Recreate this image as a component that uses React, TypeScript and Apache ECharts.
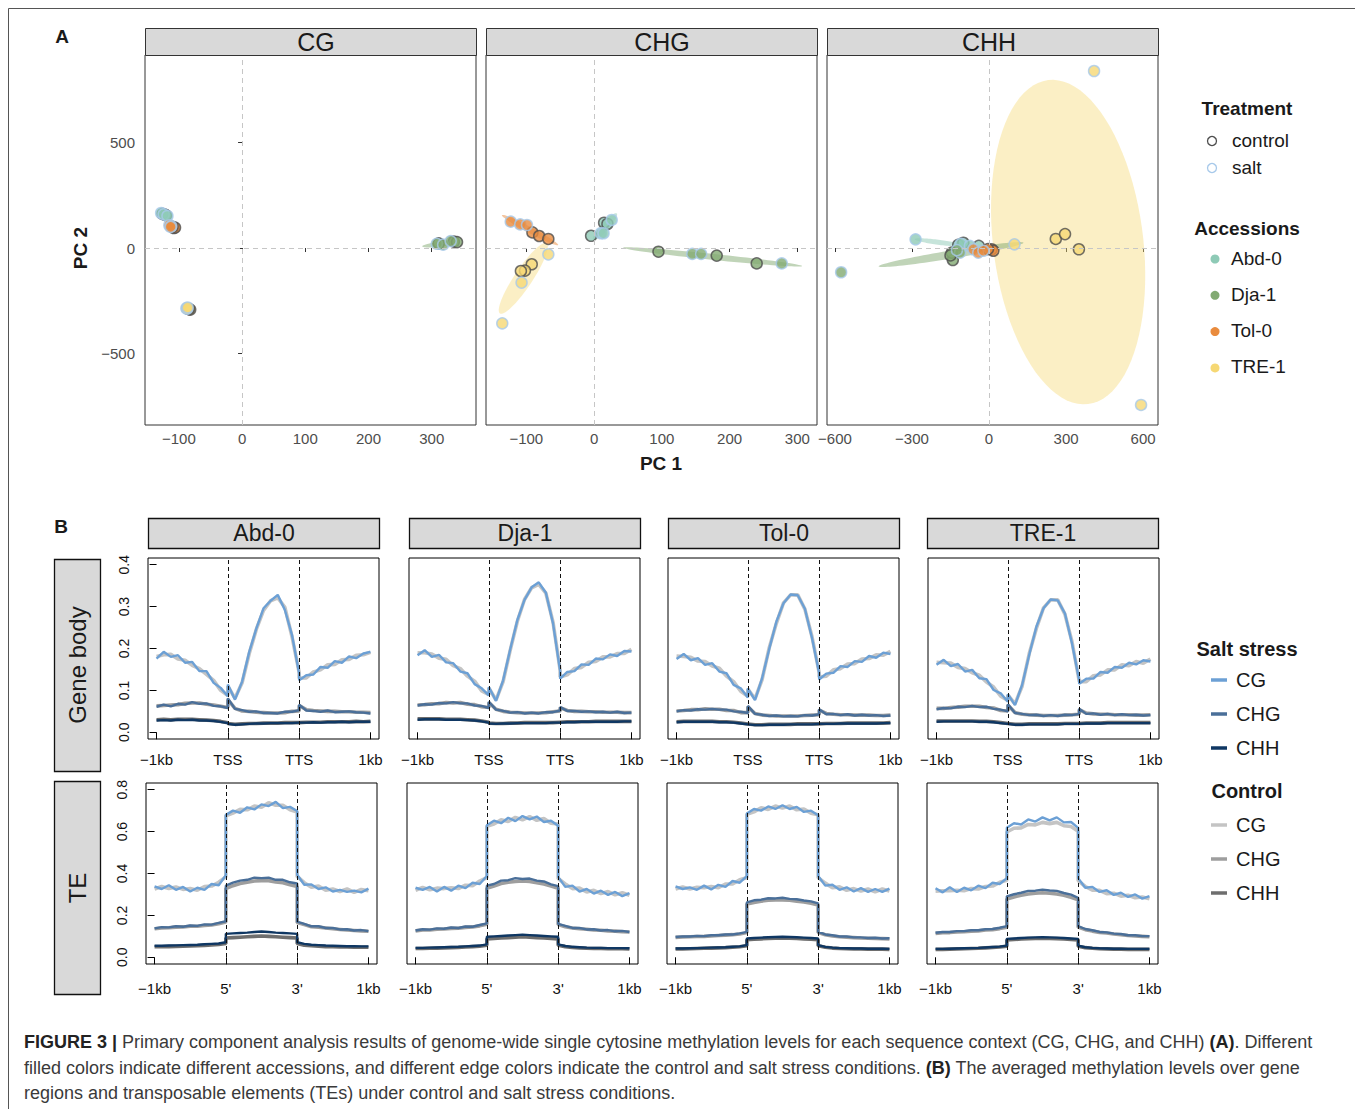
import React, { useEffect, useRef } from "react";
import * as echarts from "echarts";

const FONT = "Liberation Sans, Arial, Helvetica, sans-serif";

// ---------- Panel A: PCA ----------
const CONTEXTS = ["CG", "CHG", "CHH"];
const ACCESSIONS = ["Abd-0", "Dja-1", "Tol-0", "TRE-1"];
const ACC_COLORS = ["#8ecab6", "#82aa72", "#e98b3d", "#f6d874"];
const TREATMENTS = ["control", "salt"];
const TREAT_EDGES = ["#4d4d4d", "#a7c9ea"];

// [PC1, PC2, accession index, treatment index]
const PCA_CG = [
  [-126, 162, 0, 0], [-122, 158, 0, 0], [-120, 155, 0, 0], [-128, 166, 0, 1], [-124, 160, 0, 1], [-118, 152, 0, 1],
  [311, 22, 1, 0], [335, 30, 1, 0], [340, 28, 1, 0], [308, 20, 1, 1], [318, 16, 1, 1], [330, 33, 1, 1],
  [-108, 95, 2, 0], [-106, 97, 2, 0], [-110, 100, 2, 0], [-115, 108, 2, 1], [-112, 104, 2, 1], [-113, 100, 2, 1],
  [-82, -292, 3, 0], [-84, -290, 3, 0], [-85, -288, 3, 0], [-88, -285, 3, 1], [-87, -288, 3, 1], [-86, -282, 3, 1],
];
const PCA_CHG = [
  [-4.4, 58, 0, 0], [14.8, 120, 0, 0], [19.7, 114, 0, 0], [26, 133, 0, 1], [10, 70, 0, 1], [14, 70, 0, 1],
  [95, -17.5, 1, 0], [181, -36, 1, 0], [240, -73, 1, 0], [145, -28, 1, 1], [158, -28, 1, 1], [277, -73, 1, 1],
  [-91, 74, 2, 0], [-81, 57, 2, 0], [-67.5, 43, 2, 0], [-123, 125, 2, 1], [-109, 112, 2, 1], [-99, 109, 2, 1],
  [-92, -77, 3, 0], [-102, -107, 3, 0], [-108, -109, 3, 0], [-67.5, -30, 3, 1], [-107, -164, 3, 1], [-135.5, -357, 3, 1],
];
const PCA_CHH = [
  [-120, 15, 0, 0], [-40, 10, 0, 0], [-100, 25, 0, 0], [-286, 41, 0, 1], [-110, 20, 0, 1], [-75, 10, 0, 1],
  [-141, -57, 1, 0], [-145, -22, 1, 0], [-150, -35, 1, 0], [-576, -115, 1, 1], [-113, -22, 1, 1], [-125, -10, 1, 1],
  [10, -6, 2, 0], [17, -13, 2, 0], [-4, -5, 2, 0], [-61, -6, 2, 1], [-42, -22, 2, 1], [-22, -13, 2, 1],
  [260, 43, 3, 0], [296, 66, 3, 0], [350, -6, 3, 0], [99, 17.5, 3, 1], [409, 839, 3, 1], [592, -744, 3, 1],
];
// confidence ellipses: [centre x, centre y, semi-axis u (x,y), conjugate semi-axis v (x,y), accession]
const ELLIPSES_CG = [[315, 18, 30, 10, 0.4, -11.8, 1]];
const ELLIPSES_CHG = [
  [-94.5, 85, 41.5, -71, -2.1, -12.5, 2],
  [-104.5, -144, 34.5, 166, 11, -24, 3],
  [16, 101, 17.5, 63, 4.4, -12.6, 0],
  [175, -42, 132, -43.5, -0.45, -14.1, 1],
];
const ELLIPSES_CHH = [
  [308, 28, -78, 768, 290, 43.6, 3],
  [-148, -31, 282, 56, 2.4, -18.7, 1],
  [-195, 27, 95, -15, -1.3, -11.8, 0],
];
const PC1_RANGES = [[-153.5, 370], [-159.5, 329], [-631, 658]];
const PC1_TICKS = [[-100, 0, 100, 200, 300], [-100, 0, 100, 200, 300], [-600, -300, 0, 300, 600]];
const PC2_RANGE = [-839, 915];
const PC2_TICKS = [-500, 0, 500];

// ---------- Panel B: methylation profiles ----------
const PROFILE_X = [0, 0.1, 0.2, 0.3, 0.4, 0.5, 0.6, 0.7, 0.8, 0.9, 1, 1, 1.1, 1.2, 1.3, 1.4, 1.5, 1.6, 1.7, 1.8, 1.9, 2, 2, 2.1, 2.2, 2.3, 2.4, 2.5, 2.6, 2.7, 2.8, 2.9, 3];
const GB_X_LABELS = ["\u22121kb", "TSS", "TTS", "1kb"];
const TE_X_LABELS = ["\u22121kb", "5'", "3'", "1kb"];
const GB_Y_TICKS = [0, 0.1, 0.2, 0.3, 0.4];
const TE_Y_TICKS = [0, 0.2, 0.4, 0.6, 0.8];

// Gene body
const GB_ABD0_S_CG = [0.176, 0.192, 0.180, 0.184, 0.166, 0.168, 0.146, 0.146, 0.118, 0.106, 0.086, 0.114, 0.078, 0.121, 0.192, 0.248, 0.296, 0.314, 0.328, 0.292, 0.232, 0.140, 0.124, 0.136, 0.138, 0.156, 0.154, 0.170, 0.166, 0.181, 0.177, 0.188, 0.192];
const GB_ABD0_C_CG = [0.181, 0.185, 0.186, 0.175, 0.172, 0.160, 0.152, 0.138, 0.124, 0.100, 0.088, 0.110, 0.081, 0.118, 0.188, 0.246, 0.291, 0.314, 0.321, 0.298, 0.228, 0.143, 0.129, 0.130, 0.144, 0.149, 0.161, 0.162, 0.173, 0.174, 0.184, 0.185, 0.191];
const GB_ABD0_S_CHG = [0.061, 0.066, 0.062, 0.068, 0.066, 0.072, 0.068, 0.069, 0.063, 0.062, 0.058, 0.081, 0.056, 0.053, 0.049, 0.050, 0.046, 0.046, 0.045, 0.049, 0.049, 0.053, 0.066, 0.052, 0.051, 0.049, 0.052, 0.048, 0.049, 0.050, 0.048, 0.047, 0.045];
const GB_ABD0_C_CHG = [0.063, 0.064, 0.065, 0.066, 0.069, 0.070, 0.070, 0.067, 0.065, 0.062, 0.059, 0.078, 0.057, 0.051, 0.050, 0.048, 0.047, 0.046, 0.046, 0.047, 0.050, 0.051, 0.064, 0.054, 0.052, 0.051, 0.050, 0.050, 0.049, 0.049, 0.048, 0.048, 0.047];
const GB_ABD0_S_CHH = [0.028, 0.029, 0.028, 0.030, 0.029, 0.030, 0.028, 0.028, 0.027, 0.025, 0.022, 0.020, 0.018, 0.019, 0.020, 0.021, 0.021, 0.022, 0.022, 0.022, 0.022, 0.023, 0.023, 0.023, 0.024, 0.023, 0.024, 0.024, 0.025, 0.024, 0.025, 0.025, 0.025];
const GB_ABD0_C_CHH = [0.030, 0.031, 0.030, 0.031, 0.031, 0.031, 0.030, 0.029, 0.028, 0.026, 0.023, 0.021, 0.019, 0.020, 0.021, 0.021, 0.022, 0.022, 0.022, 0.023, 0.023, 0.023, 0.024, 0.024, 0.024, 0.024, 0.025, 0.025, 0.025, 0.025, 0.026, 0.025, 0.026];

const GB_DJA1_S_CG = [0.184, 0.196, 0.180, 0.185, 0.167, 0.165, 0.145, 0.141, 0.115, 0.105, 0.088, 0.108, 0.075, 0.124, 0.198, 0.268, 0.316, 0.346, 0.358, 0.333, 0.260, 0.146, 0.128, 0.144, 0.146, 0.162, 0.161, 0.176, 0.174, 0.186, 0.182, 0.194, 0.193];
const GB_DJA1_C_CG = [0.190, 0.190, 0.187, 0.177, 0.174, 0.159, 0.152, 0.134, 0.122, 0.099, 0.090, 0.106, 0.077, 0.121, 0.196, 0.265, 0.317, 0.345, 0.353, 0.332, 0.263, 0.148, 0.132, 0.137, 0.152, 0.155, 0.167, 0.169, 0.180, 0.180, 0.188, 0.188, 0.198];
const GB_DJA1_S_CHG = [0.064, 0.067, 0.066, 0.070, 0.069, 0.072, 0.069, 0.069, 0.064, 0.063, 0.058, 0.073, 0.054, 0.051, 0.047, 0.048, 0.045, 0.047, 0.045, 0.048, 0.048, 0.052, 0.060, 0.051, 0.051, 0.049, 0.050, 0.048, 0.049, 0.047, 0.049, 0.046, 0.047];
const GB_DJA1_C_CHG = [0.065, 0.066, 0.068, 0.068, 0.071, 0.070, 0.071, 0.067, 0.066, 0.061, 0.059, 0.071, 0.055, 0.050, 0.048, 0.047, 0.046, 0.046, 0.046, 0.047, 0.049, 0.051, 0.059, 0.052, 0.050, 0.050, 0.049, 0.049, 0.048, 0.048, 0.048, 0.047, 0.047];
const GB_DJA1_S_CHH = [0.030, 0.031, 0.031, 0.031, 0.030, 0.030, 0.030, 0.029, 0.028, 0.026, 0.023, 0.021, 0.020, 0.021, 0.021, 0.022, 0.022, 0.022, 0.022, 0.022, 0.023, 0.023, 0.024, 0.024, 0.024, 0.025, 0.025, 0.025, 0.025, 0.025, 0.025, 0.026, 0.026];
const GB_DJA1_C_CHH = [0.032, 0.032, 0.032, 0.032, 0.031, 0.031, 0.031, 0.030, 0.029, 0.027, 0.024, 0.022, 0.021, 0.021, 0.022, 0.022, 0.023, 0.023, 0.023, 0.023, 0.023, 0.024, 0.024, 0.025, 0.025, 0.025, 0.025, 0.026, 0.026, 0.026, 0.026, 0.026, 0.026];

const GB_TOL0_S_CG = [0.175, 0.187, 0.172, 0.177, 0.161, 0.165, 0.145, 0.141, 0.113, 0.105, 0.083, 0.105, 0.077, 0.129, 0.199, 0.264, 0.308, 0.329, 0.327, 0.295, 0.225, 0.141, 0.126, 0.140, 0.142, 0.158, 0.156, 0.170, 0.168, 0.182, 0.178, 0.190, 0.187];
const GB_TOL0_C_CG = [0.182, 0.181, 0.179, 0.170, 0.169, 0.158, 0.153, 0.134, 0.121, 0.098, 0.086, 0.103, 0.080, 0.126, 0.202, 0.260, 0.309, 0.328, 0.328, 0.294, 0.228, 0.143, 0.132, 0.134, 0.149, 0.152, 0.163, 0.164, 0.175, 0.176, 0.185, 0.184, 0.193];
const GB_TOL0_S_CHG = [0.050, 0.053, 0.052, 0.055, 0.054, 0.056, 0.054, 0.054, 0.050, 0.049, 0.046, 0.063, 0.044, 0.042, 0.039, 0.040, 0.038, 0.039, 0.038, 0.041, 0.040, 0.043, 0.055, 0.043, 0.044, 0.041, 0.043, 0.040, 0.042, 0.040, 0.041, 0.039, 0.040];
const GB_TOL0_C_CHG = [0.051, 0.052, 0.054, 0.054, 0.056, 0.055, 0.055, 0.052, 0.052, 0.047, 0.047, 0.061, 0.045, 0.041, 0.040, 0.039, 0.039, 0.039, 0.039, 0.040, 0.041, 0.042, 0.053, 0.045, 0.043, 0.042, 0.042, 0.041, 0.041, 0.041, 0.040, 0.040, 0.041];
const GB_TOL0_S_CHH = [0.024, 0.025, 0.025, 0.025, 0.025, 0.025, 0.024, 0.024, 0.023, 0.021, 0.019, 0.018, 0.017, 0.017, 0.018, 0.018, 0.018, 0.019, 0.019, 0.019, 0.019, 0.020, 0.020, 0.020, 0.020, 0.021, 0.021, 0.021, 0.021, 0.021, 0.021, 0.022, 0.022];
const GB_TOL0_C_CHH = [0.025, 0.026, 0.026, 0.026, 0.026, 0.026, 0.025, 0.025, 0.024, 0.022, 0.020, 0.019, 0.018, 0.018, 0.019, 0.019, 0.019, 0.019, 0.020, 0.020, 0.020, 0.020, 0.021, 0.021, 0.021, 0.021, 0.022, 0.022, 0.022, 0.022, 0.022, 0.022, 0.023];

const GB_TRE1_S_CG = [0.161, 0.173, 0.158, 0.163, 0.145, 0.149, 0.129, 0.127, 0.101, 0.093, 0.073, 0.091, 0.065, 0.113, 0.185, 0.252, 0.296, 0.317, 0.315, 0.284, 0.212, 0.125, 0.116, 0.128, 0.128, 0.144, 0.142, 0.156, 0.154, 0.166, 0.162, 0.172, 0.169];
const GB_TRE1_C_CG = [0.167, 0.166, 0.165, 0.155, 0.152, 0.142, 0.136, 0.120, 0.108, 0.086, 0.076, 0.089, 0.068, 0.110, 0.188, 0.248, 0.297, 0.316, 0.316, 0.282, 0.216, 0.123, 0.121, 0.121, 0.135, 0.137, 0.149, 0.149, 0.161, 0.159, 0.169, 0.165, 0.175];
const GB_TRE1_S_CHG = [0.055, 0.058, 0.057, 0.061, 0.060, 0.063, 0.060, 0.061, 0.056, 0.054, 0.050, 0.067, 0.046, 0.044, 0.041, 0.042, 0.039, 0.041, 0.039, 0.042, 0.041, 0.044, 0.056, 0.044, 0.045, 0.042, 0.044, 0.041, 0.043, 0.041, 0.042, 0.040, 0.041];
const GB_TRE1_C_CHG = [0.057, 0.057, 0.059, 0.060, 0.062, 0.062, 0.062, 0.059, 0.058, 0.052, 0.051, 0.065, 0.047, 0.043, 0.042, 0.041, 0.040, 0.040, 0.040, 0.041, 0.042, 0.043, 0.054, 0.046, 0.044, 0.043, 0.043, 0.042, 0.042, 0.042, 0.041, 0.041, 0.042];
const GB_TRE1_S_CHH = [0.025, 0.026, 0.026, 0.026, 0.026, 0.026, 0.025, 0.025, 0.024, 0.022, 0.020, 0.019, 0.018, 0.018, 0.019, 0.019, 0.019, 0.019, 0.019, 0.020, 0.020, 0.020, 0.021, 0.021, 0.021, 0.021, 0.022, 0.022, 0.022, 0.022, 0.022, 0.022, 0.022];
const GB_TRE1_C_CHH = [0.027, 0.027, 0.027, 0.027, 0.027, 0.027, 0.026, 0.026, 0.025, 0.023, 0.021, 0.020, 0.019, 0.019, 0.020, 0.020, 0.020, 0.020, 0.020, 0.021, 0.021, 0.021, 0.022, 0.022, 0.022, 0.022, 0.023, 0.023, 0.023, 0.023, 0.023, 0.023, 0.023];

// Transposable elements
const TE_ABD0_S_CG = [0.338, 0.326, 0.344, 0.322, 0.336, 0.314, 0.332, 0.322, 0.350, 0.344, 0.392, 0.680, 0.700, 0.690, 0.716, 0.706, 0.730, 0.722, 0.742, 0.712, 0.718, 0.698, 0.394, 0.346, 0.348, 0.326, 0.334, 0.314, 0.322, 0.312, 0.318, 0.310, 0.328];
const TE_ABD0_C_CG = [0.326, 0.338, 0.328, 0.336, 0.324, 0.328, 0.320, 0.338, 0.340, 0.358, 0.384, 0.676, 0.688, 0.706, 0.704, 0.722, 0.716, 0.738, 0.726, 0.726, 0.704, 0.694, 0.386, 0.356, 0.334, 0.340, 0.320, 0.326, 0.314, 0.326, 0.310, 0.324, 0.318];
const TE_ABD0_S_CHG = [0.138, 0.144, 0.143, 0.148, 0.146, 0.152, 0.150, 0.157, 0.156, 0.164, 0.172, 0.342, 0.356, 0.366, 0.370, 0.380, 0.378, 0.380, 0.370, 0.370, 0.358, 0.352, 0.170, 0.160, 0.148, 0.148, 0.140, 0.140, 0.133, 0.134, 0.128, 0.130, 0.125];
const TE_ABD0_C_CHG = [0.136, 0.140, 0.141, 0.144, 0.145, 0.148, 0.148, 0.152, 0.154, 0.160, 0.168, 0.328, 0.342, 0.352, 0.358, 0.364, 0.366, 0.366, 0.360, 0.356, 0.346, 0.338, 0.166, 0.156, 0.146, 0.144, 0.140, 0.136, 0.133, 0.130, 0.128, 0.126, 0.124];
const TE_ABD0_S_CHH = [0.055, 0.055, 0.056, 0.057, 0.058, 0.059, 0.060, 0.062, 0.064, 0.066, 0.072, 0.112, 0.114, 0.116, 0.118, 0.121, 0.123, 0.121, 0.118, 0.116, 0.114, 0.112, 0.072, 0.064, 0.060, 0.058, 0.056, 0.055, 0.054, 0.053, 0.053, 0.052, 0.052];
const TE_ABD0_C_CHH = [0.050, 0.050, 0.051, 0.052, 0.053, 0.054, 0.055, 0.057, 0.059, 0.061, 0.066, 0.092, 0.094, 0.096, 0.098, 0.100, 0.102, 0.100, 0.098, 0.096, 0.094, 0.092, 0.066, 0.058, 0.055, 0.053, 0.051, 0.050, 0.049, 0.049, 0.048, 0.048, 0.048];

const TE_DJA1_S_CG = [0.332, 0.322, 0.336, 0.314, 0.336, 0.318, 0.342, 0.330, 0.356, 0.350, 0.388, 0.630, 0.652, 0.640, 0.666, 0.650, 0.674, 0.658, 0.672, 0.646, 0.652, 0.628, 0.384, 0.336, 0.342, 0.314, 0.326, 0.304, 0.318, 0.298, 0.312, 0.292, 0.306];
const TE_DJA1_C_CG = [0.320, 0.334, 0.322, 0.330, 0.328, 0.332, 0.328, 0.344, 0.342, 0.364, 0.380, 0.626, 0.636, 0.656, 0.648, 0.668, 0.656, 0.672, 0.654, 0.662, 0.640, 0.636, 0.376, 0.350, 0.328, 0.330, 0.312, 0.320, 0.304, 0.314, 0.298, 0.308, 0.296];
const TE_DJA1_S_CHG = [0.128, 0.134, 0.132, 0.138, 0.136, 0.142, 0.140, 0.147, 0.146, 0.154, 0.162, 0.342, 0.350, 0.366, 0.368, 0.378, 0.374, 0.376, 0.366, 0.362, 0.348, 0.340, 0.160, 0.150, 0.140, 0.140, 0.133, 0.134, 0.128, 0.130, 0.124, 0.126, 0.121];
const TE_DJA1_C_CHG = [0.126, 0.130, 0.130, 0.134, 0.135, 0.138, 0.139, 0.143, 0.145, 0.150, 0.158, 0.330, 0.340, 0.352, 0.358, 0.362, 0.364, 0.362, 0.356, 0.350, 0.340, 0.330, 0.156, 0.146, 0.140, 0.136, 0.134, 0.130, 0.129, 0.126, 0.125, 0.122, 0.121];
const TE_DJA1_S_CHH = [0.045, 0.045, 0.046, 0.047, 0.048, 0.049, 0.050, 0.052, 0.054, 0.056, 0.062, 0.098, 0.100, 0.102, 0.104, 0.106, 0.108, 0.106, 0.104, 0.102, 0.100, 0.098, 0.062, 0.054, 0.050, 0.048, 0.046, 0.045, 0.045, 0.044, 0.044, 0.044, 0.043];
const TE_DJA1_C_CHH = [0.042, 0.042, 0.043, 0.044, 0.045, 0.046, 0.047, 0.049, 0.051, 0.053, 0.058, 0.088, 0.090, 0.092, 0.094, 0.096, 0.098, 0.096, 0.094, 0.092, 0.090, 0.088, 0.058, 0.051, 0.047, 0.045, 0.043, 0.042, 0.042, 0.041, 0.041, 0.041, 0.040];

const TE_TOL0_S_CG = [0.338, 0.326, 0.334, 0.322, 0.342, 0.324, 0.346, 0.336, 0.364, 0.356, 0.388, 0.686, 0.708, 0.700, 0.720, 0.708, 0.726, 0.708, 0.718, 0.694, 0.700, 0.678, 0.388, 0.342, 0.346, 0.322, 0.334, 0.314, 0.330, 0.312, 0.326, 0.312, 0.328];
const TE_TOL0_C_CG = [0.326, 0.336, 0.326, 0.334, 0.332, 0.338, 0.332, 0.350, 0.350, 0.370, 0.380, 0.682, 0.694, 0.714, 0.706, 0.722, 0.712, 0.722, 0.704, 0.708, 0.688, 0.680, 0.380, 0.354, 0.332, 0.336, 0.320, 0.328, 0.316, 0.326, 0.312, 0.326, 0.316];
const TE_TOL0_S_CHG = [0.097, 0.100, 0.099, 0.102, 0.101, 0.105, 0.105, 0.109, 0.109, 0.114, 0.121, 0.262, 0.272, 0.275, 0.282, 0.281, 0.284, 0.279, 0.277, 0.271, 0.267, 0.257, 0.121, 0.109, 0.105, 0.099, 0.099, 0.095, 0.095, 0.092, 0.093, 0.090, 0.091];
const TE_TOL0_C_CHG = [0.095, 0.097, 0.098, 0.099, 0.100, 0.102, 0.104, 0.106, 0.108, 0.111, 0.118, 0.254, 0.262, 0.268, 0.272, 0.274, 0.274, 0.272, 0.268, 0.264, 0.258, 0.250, 0.118, 0.108, 0.102, 0.098, 0.096, 0.094, 0.092, 0.091, 0.090, 0.089, 0.088];
const TE_TOL0_S_CHH = [0.042, 0.042, 0.043, 0.044, 0.045, 0.046, 0.047, 0.048, 0.050, 0.052, 0.058, 0.090, 0.092, 0.094, 0.096, 0.097, 0.098, 0.097, 0.096, 0.094, 0.092, 0.090, 0.058, 0.050, 0.046, 0.044, 0.043, 0.042, 0.042, 0.041, 0.041, 0.041, 0.040];
const TE_TOL0_C_CHH = [0.040, 0.040, 0.041, 0.042, 0.043, 0.044, 0.045, 0.046, 0.048, 0.050, 0.055, 0.084, 0.086, 0.088, 0.090, 0.091, 0.092, 0.091, 0.090, 0.088, 0.086, 0.084, 0.055, 0.048, 0.044, 0.042, 0.041, 0.040, 0.040, 0.039, 0.039, 0.039, 0.038];

const TE_TRE1_S_CG = [0.330, 0.310, 0.334, 0.312, 0.332, 0.320, 0.342, 0.330, 0.356, 0.350, 0.378, 0.618, 0.640, 0.634, 0.658, 0.648, 0.668, 0.654, 0.668, 0.644, 0.646, 0.618, 0.378, 0.332, 0.336, 0.312, 0.320, 0.298, 0.308, 0.288, 0.300, 0.280, 0.292];
const TE_TRE1_C_CG = [0.316, 0.318, 0.318, 0.320, 0.318, 0.328, 0.326, 0.338, 0.340, 0.358, 0.368, 0.598, 0.616, 0.618, 0.634, 0.632, 0.644, 0.638, 0.644, 0.628, 0.624, 0.602, 0.366, 0.338, 0.320, 0.320, 0.304, 0.306, 0.292, 0.296, 0.284, 0.288, 0.280];
const TE_TRE1_S_CHG = [0.117, 0.121, 0.121, 0.125, 0.125, 0.129, 0.129, 0.134, 0.135, 0.141, 0.149, 0.291, 0.301, 0.308, 0.317, 0.318, 0.323, 0.319, 0.317, 0.307, 0.299, 0.284, 0.149, 0.135, 0.129, 0.121, 0.119, 0.113, 0.111, 0.105, 0.105, 0.101, 0.101];
const TE_TRE1_C_CHG = [0.114, 0.117, 0.118, 0.121, 0.122, 0.125, 0.126, 0.130, 0.132, 0.137, 0.144, 0.278, 0.288, 0.296, 0.302, 0.306, 0.308, 0.306, 0.302, 0.296, 0.286, 0.274, 0.144, 0.132, 0.125, 0.119, 0.116, 0.111, 0.108, 0.104, 0.102, 0.100, 0.098];
const TE_TRE1_S_CHH = [0.040, 0.040, 0.041, 0.042, 0.043, 0.044, 0.045, 0.047, 0.049, 0.051, 0.056, 0.088, 0.090, 0.092, 0.094, 0.095, 0.096, 0.095, 0.094, 0.092, 0.090, 0.088, 0.056, 0.048, 0.045, 0.043, 0.042, 0.041, 0.041, 0.040, 0.040, 0.040, 0.040];
const TE_TRE1_C_CHH = [0.038, 0.038, 0.039, 0.040, 0.041, 0.042, 0.043, 0.045, 0.047, 0.049, 0.053, 0.083, 0.085, 0.087, 0.089, 0.090, 0.091, 0.090, 0.089, 0.087, 0.085, 0.083, 0.053, 0.046, 0.043, 0.041, 0.040, 0.039, 0.039, 0.038, 0.038, 0.038, 0.038];

const SALT_COLORS = ["#6ca0d5", "#4a6f99", "#0f3763"];
const CONTROL_COLORS = ["#c4c4c4", "#9e9e9e", "#6e6e6e"];

const minusFmt = (v: number) => (v < 0 ? "\u2212" + Math.abs(v) : String(v));

function buildOption() {
  const grid: any[] = [];
  const xAxis: any[] = [];
  const yAxis: any[] = [];
  const series: any[] = [];
  const graphic: any[] = [];

  const txt = (text: string, x: number, y: number, size: number, opts: any = {}) => ({
    type: "text",
    x,
    y,
    rotation: opts.rotation || 0,
    z: 50,
    style: {
      text,
      fill: opts.fill || "#1a1a1a",
      fontSize: size,
      fontFamily: FONT,
      fontWeight: opts.bold ? "bold" : "normal",
      textAlign: opts.align || "center",
      textVerticalAlign: "middle",
      align: opts.align || "center",
      verticalAlign: "middle",
    },
  });

  // ---------------- Panel A ----------------
  const pcaData = [PCA_CG, PCA_CHG, PCA_CHH];
  const ellData = [ELLIPSES_CG, ELLIPSES_CHG, ELLIPSES_CHH];
  const aLefts = [145, 486, 827];
  const stripTextX = [316, 662, 989];
  for (let i = 0; i < 3; i++) {
    grid.push({ left: aLefts[i], top: 55, width: 331, height: 370, show: true, borderColor: "#333", borderWidth: 1, backgroundColor: "#fff" });
    xAxis.push({
      gridIndex: i, type: "value", min: PC1_RANGES[i][0], max: PC1_RANGES[i][1],
      axisLine: { show: false }, splitLine: { show: false },
      axisTick: { show: true, length: 4, lineStyle: { color: "#333" }, customValues: PC1_TICKS[i] },
      axisLabel: { customValues: PC1_TICKS[i], fontSize: 15, color: "#4d4d4d", fontFamily: FONT, margin: 6, formatter: (v: number) => minusFmt(v) },
    });
    yAxis.push({
      gridIndex: i, type: "value", min: PC2_RANGE[0], max: PC2_RANGE[1],
      axisLine: { show: false }, splitLine: { show: false },
      axisTick: { show: i === 0, length: 4, lineStyle: { color: "#333" }, customValues: PC2_TICKS },
      axisLabel: { show: i === 0, customValues: PC2_TICKS, fontSize: 15, color: "#4d4d4d", fontFamily: FONT, margin: 10, formatter: (v: number) => minusFmt(v) },
    });
    series.push({
      type: "custom",
      xAxisIndex: i, yAxisIndex: i,
      clip: true, z: 1,
      encode: { x: 0, y: 1 },
      data: ellData[i],
      renderItem: (_p: any, api: any) => {
        const cx = api.value(0), cy = api.value(1), ux = api.value(2), uy = api.value(3), vx = api.value(4), vy = api.value(5);
        const acc = api.value(6);
        const pts: number[][] = [];
        for (let k = 0; k < 90; k++) {
          const t = (k / 90) * Math.PI * 2;
          pts.push(api.coord([cx + ux * Math.cos(t) + vx * Math.sin(t), cy + uy * Math.cos(t) + vy * Math.sin(t)]));
        }
        return { type: "polygon", shape: { points: pts }, style: { fill: ACC_COLORS[acc], opacity: acc === 3 ? 0.42 : 0.5 } };
      },
      markLine: {
        silent: true, symbol: "none", label: { show: false },
        lineStyle: { type: [5, 4], color: "#c6c6c6", width: 1 },
        data: [{ xAxis: 0 }, { yAxis: 0 }],
      },
    });
    series.push({
      type: "scatter",
      xAxisIndex: i, yAxisIndex: i, z: 3,
      symbolSize: 11,
      data: pcaData[i].map((p) => ({
        value: [p[0], p[1]],
        itemStyle: { color: ACC_COLORS[p[2]], borderColor: TREAT_EDGES[p[3]], borderWidth: 1.5 },
      })),
    });
    // strip
    graphic.push({ type: "rect", z: 40, shape: { x: aLefts[i] + 0.5, y: 28.5, width: 331, height: 27 }, style: { fill: "#d9d9d9", stroke: "#333", lineWidth: 1 } });
    graphic.push(txt(CONTEXTS[i], stripTextX[i], 42, 25));
  }

  // ---------------- Panel B ----------------
  const gbSets = [
    [[GB_ABD0_S_CG, GB_ABD0_S_CHG, GB_ABD0_S_CHH], [GB_ABD0_C_CG, GB_ABD0_C_CHG, GB_ABD0_C_CHH]],
    [[GB_DJA1_S_CG, GB_DJA1_S_CHG, GB_DJA1_S_CHH], [GB_DJA1_C_CG, GB_DJA1_C_CHG, GB_DJA1_C_CHH]],
    [[GB_TOL0_S_CG, GB_TOL0_S_CHG, GB_TOL0_S_CHH], [GB_TOL0_C_CG, GB_TOL0_C_CHG, GB_TOL0_C_CHH]],
    [[GB_TRE1_S_CG, GB_TRE1_S_CHG, GB_TRE1_S_CHH], [GB_TRE1_C_CG, GB_TRE1_C_CHG, GB_TRE1_C_CHH]],
  ];
  const teSets = [
    [[TE_ABD0_S_CG, TE_ABD0_S_CHG, TE_ABD0_S_CHH], [TE_ABD0_C_CG, TE_ABD0_C_CHG, TE_ABD0_C_CHH]],
    [[TE_DJA1_S_CG, TE_DJA1_S_CHG, TE_DJA1_S_CHH], [TE_DJA1_C_CG, TE_DJA1_C_CHG, TE_DJA1_C_CHH]],
    [[TE_TOL0_S_CG, TE_TOL0_S_CHG, TE_TOL0_S_CHH], [TE_TOL0_C_CG, TE_TOL0_C_CHG, TE_TOL0_C_CHH]],
    [[TE_TRE1_S_CG, TE_TRE1_S_CHG, TE_TRE1_S_CHH], [TE_TRE1_C_CG, TE_TRE1_C_CHG, TE_TRE1_C_CHH]],
  ];
  const rows = [
    { sets: gbSets, top: 558, lefts: [148, 409, 668, 928], yMin: -0.016, yMax: 0.416, yTicks: GB_Y_TICKS, xLabels: GB_X_LABELS, labelMargin: 13 },
    { sets: teSets, top: 783, lefts: [146, 407, 667, 927], yMin: -0.032, yMax: 0.832, yTicks: TE_Y_TICKS, xLabels: TE_X_LABELS, labelMargin: 17 },
  ];
  rows.forEach((row) => {
    for (let c = 0; c < 4; c++) {
      const gi = grid.length;
      grid.push({ left: row.lefts[c], top: row.top, width: 231, height: 181, show: true, borderColor: "#000", borderWidth: 1, backgroundColor: "#fff" });
      xAxis.push({
        gridIndex: gi, type: "value", min: -0.12, max: 3.12,
        axisLine: { show: false }, splitLine: { show: false },
        axisTick: { show: true, length: 7, lineStyle: { color: "#000" }, customValues: [0, 1, 2, 3] },
        axisLabel: {
          customValues: [0, 1, 2, 3], fontSize: 15, color: "#111", fontFamily: FONT, margin: row.labelMargin,
          formatter: (v: number) => row.xLabels[Math.round(v)] || "",
        },
      });
      yAxis.push({
        gridIndex: gi, type: "value", min: row.yMin, max: row.yMax,
        axisLine: { show: false }, splitLine: { show: false },
        axisTick: { show: c === 0, length: 7, lineStyle: { color: "#000" }, customValues: row.yTicks },
        axisLabel: { show: c === 0, customValues: row.yTicks, rotate: 90, fontSize: 14, color: "#111", fontFamily: FONT, margin: 17, formatter: (v: number) => Number(v).toFixed(1) },
      });
      const [salt, control] = row.sets[c];
      // dashed TSS/TTS markers
      series.push({
        type: "line", xAxisIndex: gi, yAxisIndex: gi, showSymbol: false,
        data: [[1, row.yMin], [1, row.yMin]],
        lineStyle: { width: 0, opacity: 0 },
        markLine: {
          silent: true, symbol: "none", label: { show: false },
          lineStyle: { type: [4, 3], color: "#111", width: 1 },
          data: [{ xAxis: 1 }, { xAxis: 2 }],
        },
      });
      const all = [control, salt];
      for (let t = 0; t < 2; t++) {
        for (let k = 0; k < 3; k++) {
          const arr = all[t][k];
          series.push({
            type: "line", xAxisIndex: gi, yAxisIndex: gi, showSymbol: false,
            lineStyle: { color: t === 0 ? CONTROL_COLORS[k] : SALT_COLORS[k], width: t === 0 ? 3.6 : 2.4 },
            data: PROFILE_X.map((x, j) => [x, arr[j]]),
          });
        }
      }
    }
  });
  // column strips
  const stripLefts = [148, 409, 668, 927];
  for (let c = 0; c < 4; c++) {
    graphic.push({ type: "rect", z: 40, shape: { x: stripLefts[c] + 0.5, y: 518.5, width: 231, height: 30 }, style: { fill: "#d9d9d9", stroke: "#111", lineWidth: 1.3 } });
    graphic.push(txt(ACCESSIONS[c], stripLefts[c] + 116, 533, 23));
  }
  // row strips
  graphic.push({ type: "rect", z: 40, shape: { x: 54.5, y: 559.5, width: 46, height: 212 }, style: { fill: "#d9d9d9", stroke: "#111", lineWidth: 1.3 } });
  graphic.push(txt("Gene body", 77, 665, 24, { rotation: Math.PI / 2 }));
  graphic.push({ type: "rect", z: 40, shape: { x: 54.5, y: 781.5, width: 46, height: 213 }, style: { fill: "#d9d9d9", stroke: "#111", lineWidth: 1.3 } });
  graphic.push(txt("TE", 77, 888, 24, { rotation: Math.PI / 2 }));

  // ---------------- Frame, labels, legends ----------------
  graphic.push({ type: "rect", z: 0, shape: { x: 8.5, y: 8.5, width: 1370, height: 1120 }, style: { fill: "none", stroke: "#555", lineWidth: 1 } });
  graphic.push(txt("A", 62, 36, 19, { bold: true }));
  graphic.push(txt("B", 61, 526, 19, { bold: true }));
  graphic.push(txt("PC 1", 661, 463, 19, { bold: true }));
  graphic.push(txt("PC 2", 80, 248, 19, { bold: true, rotation: Math.PI / 2 }));

  graphic.push(txt("Treatment", 1247, 108, 19, { bold: true }));
  TREATMENTS.forEach((t, i) => {
    const y = 140 + i * 27;
    graphic.push({ type: "circle", z: 50, shape: { cx: 1212, cy: y + 1, r: 4.5 }, style: { fill: "none", stroke: TREAT_EDGES[i], lineWidth: 1.3 } });
    graphic.push(txt(t, 1232, y, 19, { align: "left" }));
  });
  graphic.push(txt("Accessions", 1247, 228, 19, { bold: true }));
  ACCESSIONS.forEach((a, i) => {
    const y = 258 + i * 36.3;
    graphic.push({ type: "circle", z: 50, shape: { cx: 1215, cy: y + 1, r: 4.5 }, style: { fill: ACC_COLORS[i] } });
    graphic.push(txt(a, 1231, y, 19, { align: "left" }));
  });

  graphic.push(txt("Salt stress", 1247, 649, 20, { bold: true }));
  CONTEXTS.forEach((c, i) => {
    const y = 680 + i * 34;
    graphic.push({ type: "line", z: 50, shape: { x1: 1211, y1: y, x2: 1227, y2: y }, style: { stroke: SALT_COLORS[i], lineWidth: 3.5 } });
    graphic.push(txt(c, 1236, y, 20, { align: "left" }));
  });
  graphic.push(txt("Control", 1247, 791, 20, { bold: true }));
  CONTEXTS.forEach((c, i) => {
    const y = 825 + i * 34;
    graphic.push({ type: "line", z: 50, shape: { x1: 1211, y1: y, x2: 1227, y2: y }, style: { stroke: CONTROL_COLORS[i], lineWidth: 3.5 } });
    graphic.push(txt(c, 1236, y, 20, { align: "left" }));
  });

  // caption
  const capLines = [
    "{b|FIGURE 3 |} Primary component analysis results of genome-wide single cytosine methylation levels for each sequence context (CG, CHG, and CHH) {b|(A)}. Different",
    "filled colors indicate different accessions, and different edge colors indicate the control and salt stress conditions. {b|(B)} The averaged methylation levels over gene",
    "regions and transposable elements (TEs) under control and salt stress conditions.",
  ];
  capLines.forEach((line, i) => {
    graphic.push({
      type: "text", z: 50, x: 24, y: 1042 + i * 25.5,
      style: {
        text: line, fill: "#3a3a3a", fontSize: 18, fontFamily: FONT,
        textAlign: "left", textVerticalAlign: "middle", align: "left", verticalAlign: "middle",
        rich: { b: { fontWeight: "bold", fontSize: 18, fontFamily: FONT, fill: "#222" } },
      },
    });
  });

  return { animation: false, backgroundColor: "#fff", grid, xAxis, yAxis, series, graphic };
}

export default function App() {
  const ref = useRef<HTMLDivElement>(null);
  useEffect(() => {
    document.body.style.margin = "0";
    const chart = echarts.init(ref.current!, null, { renderer: "svg" });
    chart.setOption(buildOption() as any);
    return () => chart.dispose();
  }, []);
  return <div ref={ref} style={{ width: 1355, height: 1109 }} />;
}
